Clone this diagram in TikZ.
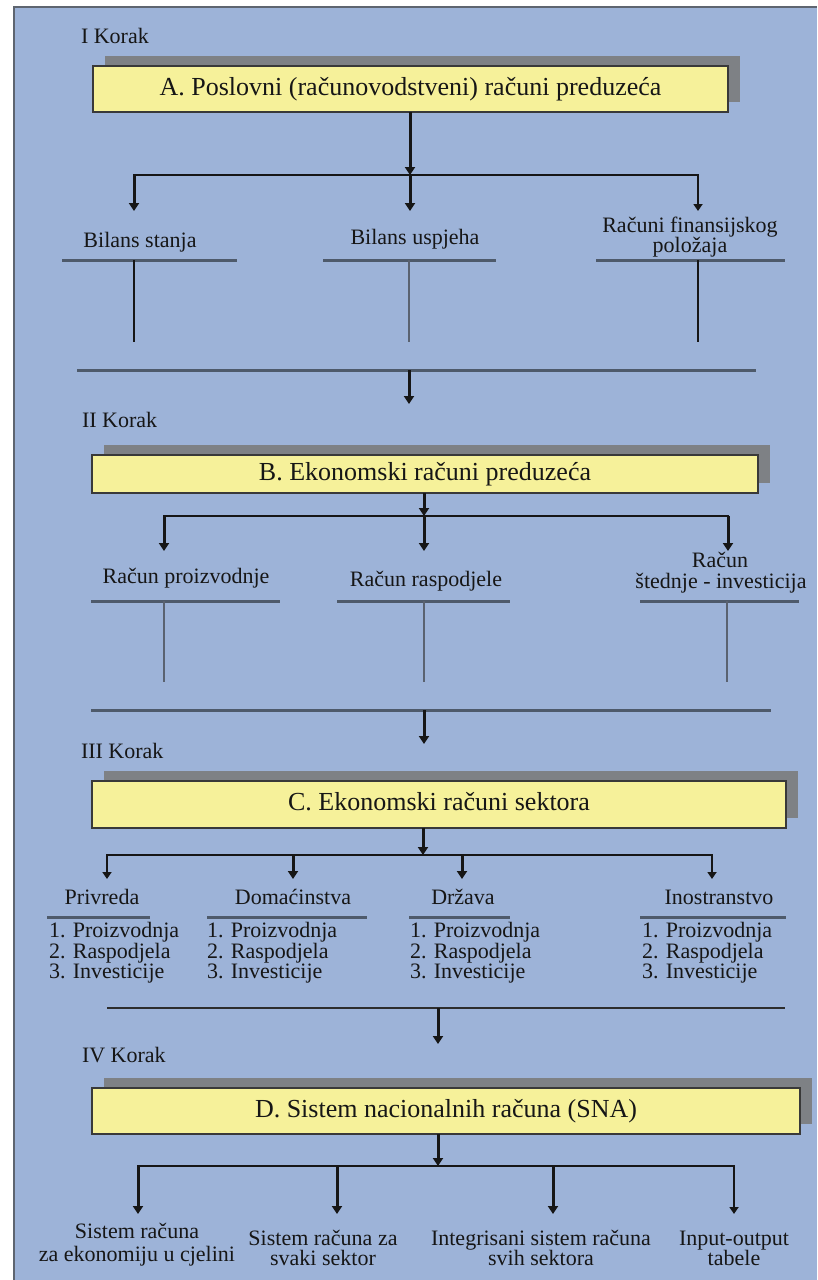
\documentclass[tikz,border=0pt]{standalone}
\usepackage{fontspec}
\setmainfont{Liberation Serif}
\usetikzlibrary{arrows.meta,shadows}
\definecolor{panel}{HTML}{9DB3D8}
\definecolor{panelborder}{HTML}{5E6570}
\definecolor{boxyellow}{HTML}{F6F19A}
\definecolor{shadowgray}{HTML}{7E8185}
\definecolor{tgray}{HTML}{4E5A6B}
\definecolor{stemgray}{HTML}{5A6270}
\definecolor{ink}{HTML}{161616}
\tikzset{
  stepbox/.style={draw=ink!85, line width=1.2pt, fill=boxyellow, inner sep=0pt, outer sep=0pt,
    text=ink, font=\fontsize{26}{30}\selectfont, text height=18pt, text depth=6pt,
    drop shadow={shadow xshift=12pt, shadow yshift=10pt, fill=shadowgray, opacity=1}},
  lbl/.style={inner sep=0pt, outer sep=0pt, text=ink, font=\fontsize{22}{22}\selectfont},
  korak/.style={lbl, anchor=base west},
  thickarrow/.style={draw=ink, line width=3pt, -{Triangle[width=10pt,length=8pt]}},
  thinarrow/.style={draw=ink, line width=1.8pt, -{Triangle[width=9pt,length=7pt]}},
  branch/.style={draw=ink, line width=2pt, line cap=rect},
  tbar/.style={draw=tgray, line width=3pt},
  stemblack/.style={draw=ink, line width=1.5pt},
  stemgrey/.style={draw=stemgray, line width=1.5pt},
  longline/.style={draw=tgray, line width=3pt},
  longdark/.style={draw=ink!90, line width=2.5pt},
}
\begin{document}
\begin{tikzpicture}[x=1pt,y=-1pt]
\useasboundingbox (0,0) rectangle (817,1280);
\fill[white] (0,0) rectangle (817,1280);
\fill[panel] (13,6) rectangle (817,1280);
\draw[panelborder, line width=2pt] (14,1280) -- (14,7) -- (817,7);

% ---------------- Step I ----------------
\node[korak] (k1) at (81,43) {I Korak};
\node[stepbox, minimum width=635pt, minimum height=46pt] (A) at (410.5,89)
  {A. Poslovni (računovodstveni) računi preduzeća};
\coordinate (bA1) at (134,175);
\coordinate (bA2) at (410,175);
\coordinate (bA3) at (698,175);
\coordinate (eA1) at (134,211);
\coordinate (eA2) at (410,211);
\coordinate (eA3) at (698,211);
\draw[thickarrow] (A.south -| bA2) -- (bA2);
\draw[branch] (bA1) -- (bA3);
\draw[thickarrow] (bA1) -- (eA1);
\draw[thickarrow] (bA2) -- (eA2);
\draw[thinarrow] (bA3) -- (eA3);
\node[lbl, anchor=base] (a1) at (140,247) {Bilans stanja};
\node[lbl, anchor=base] (a2) at (415,244) {Bilans uspjeha};
\node[lbl, anchor=base] (a3) at (690,232) {Računi finansijskog};
\node[lbl, anchor=base] (a3b) at (690,252) {položaja};
\draw[tbar] (62,260) -- (237,260);
\draw[tbar] (323,260) -- (496,260);
\draw[tbar] (596,260) -- (785,260);
\draw[stemblack] (134,260) -- (134,342);
\draw[stemgrey] (409,260) -- (409,342);
\draw[stemblack] (698,260) -- (698,342);
\draw[longline] (77,370) -- (756,370);
\coordinate (lA) at (409,370);
\coordinate (lAe) at (409,404);
\draw[thickarrow] (lA) -- (lAe);

% ---------------- Step II ----------------
\node[korak] (k2) at (82,427) {II Korak};
\node[stepbox, minimum width=666pt, minimum height=38pt] (B) at (425,474)
  {B. Ekonomski računi preduzeća};
\coordinate (bB1) at (164,516);
\coordinate (bB2) at (424,516);
\coordinate (bB3) at (728,516);
\coordinate (eB1) at (164,551);
\coordinate (eB2) at (424,551);
\coordinate (eB3) at (728,551);
\draw[thickarrow] (B.south -| bB2) -- (bB2);
\draw[branch] (bB1) -- (bB3);
\draw[thickarrow] (bB1) -- (eB1);
\draw[thickarrow] (bB2) -- (eB2);
\draw[thickarrow] (bB3) -- (eB3);
\node[lbl, anchor=base] (b1) at (186,583) {Račun proizvodnje};
\node[lbl, anchor=base] (b2) at (426,586) {Račun raspodjele};
\node[lbl, anchor=base] (b3) at (720,567) {Račun};
\node[lbl, anchor=base] (b3b) at (721,588) {štednje - investicija};
\draw[tbar] (91,601) -- (280,601);
\draw[tbar] (337,601) -- (510,601);
\draw[tbar] (640,601) -- (799,601);
\draw[stemgrey] (164,601) -- (164,682);
\draw[stemgrey] (424,601) -- (424,682);
\draw[stemgrey] (727,601) -- (727,682);
\draw[longline] (91,710) -- (771,710);
\coordinate (lB) at (424,710);
\coordinate (lBe) at (424,744);
\draw[thickarrow] (lB) -- (lBe);

% ---------------- Step III ----------------
\node[korak] (k3) at (81,758) {III Korak};
\node[stepbox, minimum width=694pt, minimum height=47pt] (C) at (439,804.5)
  {C. Ekonomski računi sektora};
\coordinate (bC1) at (107,855);
\coordinate (bC2) at (293,855);
\coordinate (bCm) at (423,855);
\coordinate (bC3) at (462,855);
\coordinate (bC4) at (712,855);
\coordinate (eC1) at (107,879);
\coordinate (eC2) at (293,879);
\coordinate (eC3) at (462,879);
\coordinate (eC4) at (712,879);
\draw[thickarrow] (C.south -| bCm) -- (bCm);
\draw[branch] (bC1) -- (bC4);
\draw[thinarrow] (bC1) -- (eC1);
\draw[thickarrow] (bC2) -- (eC2);
\draw[thickarrow] (bC3) -- (eC3);
\draw[thinarrow] (bC4) -- (eC4);
\node[lbl, anchor=base] (c1) at (102,904) {Privreda};
\node[lbl, anchor=base] (c2) at (293,904) {Domaćinstva};
\node[lbl, anchor=base] (c3) at (463,904) {Država};
\node[lbl, anchor=base] (c4) at (719,904) {Inostranstvo};
\draw[tbar] (47,917) -- (150,917);
\draw[tbar] (207,917) -- (367,917);
\draw[tbar] (409,917) -- (510,917);
\draw[tbar] (640,917) -- (786,917);
\foreach \x/\n in {49/p,207/d,410/z,642/i}{
  \node[lbl, anchor=base west] (\n1) at (\x,937) {1. Proizvodnja};
  \node[lbl, anchor=base west] (\n2) at (\x,958) {2. Raspodjela};
  \node[lbl, anchor=base west] (\n3) at (\x,978) {3. Investicije};
}
\draw[longdark] (107,1008) -- (785,1008);
\coordinate (lC) at (438,1008);
\coordinate (lCe) at (438,1044);
\draw[thickarrow] (lC) -- (lCe);

% ---------------- Step IV ----------------
\node[korak] (k4) at (82,1062) {IV Korak};
\node[stepbox, minimum width=708pt, minimum height=46pt] (D) at (446,1111)
  {D. Sistem nacionalnih računa (SNA)};
\coordinate (bD1) at (138,1166);
\coordinate (bD2) at (337,1166);
\coordinate (bDm) at (438,1166);
\coordinate (bD3) at (553,1166);
\coordinate (bD4) at (734,1166);
\coordinate (eD1) at (138,1214);
\coordinate (eD2) at (337,1214);
\coordinate (eD3) at (553,1214);
\coordinate (eD4) at (734,1214);
\draw[thickarrow] (D.south -| bDm) -- (bDm);
\draw[branch] (bD1) -- (bD4);
\draw[thickarrow] (bD1) -- (eD1);
\draw[thickarrow] (bD2) -- (eD2);
\draw[thickarrow] (bD3) -- (eD3);
\draw[thinarrow] (bD4) -- (eD4);
\node[lbl, anchor=base] (d1) at (137,1238) {Sistem računa};
\node[lbl, anchor=base] (d1b) at (137,1261) {za ekonomiju u cjelini};
\node[lbl, anchor=base] (d2) at (323,1245) {Sistem računa za};
\node[lbl, anchor=base] (d2b) at (323,1265) {svaki sektor};
\node[lbl, anchor=base] (d3) at (541,1245) {Integrisani sistem računa};
\node[lbl, anchor=base] (d3b) at (541,1265) {svih sektora};
\node[lbl, anchor=base] (d4) at (734,1245) {Input-output};
\node[lbl, anchor=base] (d4b) at (734,1265) {tabele};
\end{tikzpicture}
\end{document}
